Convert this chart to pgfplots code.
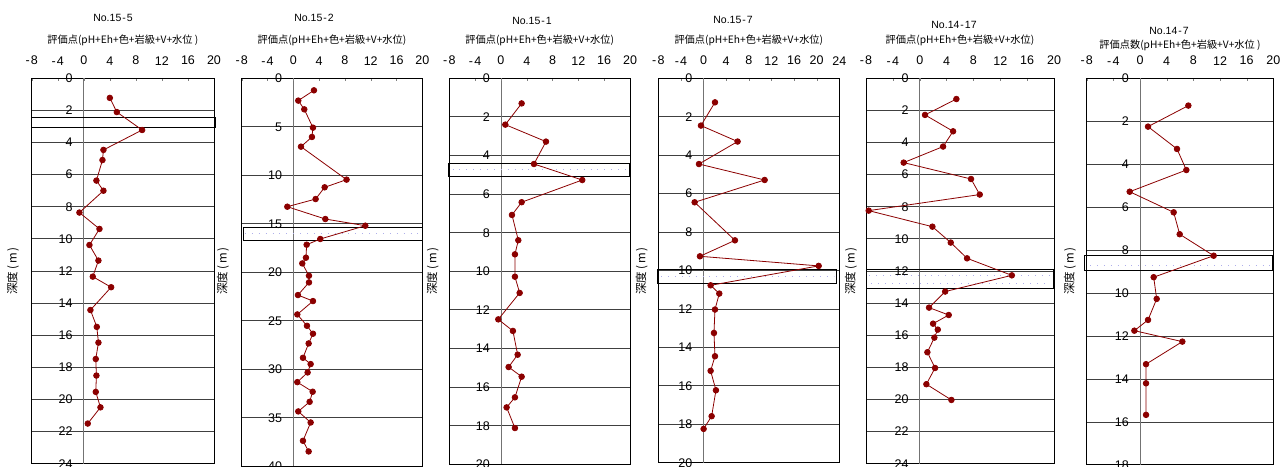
\documentclass[border=0pt]{standalone}
\usepackage{fontspec}
\setmainfont{Liberation Sans}
\newfontfamily\jp{Noto Sans CJK JP}
\usepackage{pgfplots}
\pgfplotsset{compat=1.18}

\definecolor{ptred}{RGB}{139,0,0}
\definecolor{dotc}{RGB}{175,175,235}

\pgfplotsset{
  panel/.style={
    scale only axis, anchor=north west,
    y dir=reverse, ymin=0, clip=false,
    axis line style={line width=1pt},
    xtick pos=right, xticklabel pos=right,
    tick align=inside, major tick length=3pt,
    ytick style={draw=none},
    ymajorgrids, major grid style={black!75, line width=0.85pt},
    extra x ticks={0}, extra x tick labels={},
    extra x tick style={grid=major, major grid style={black!55, line width=0.8pt}},
    xticklabel style={font=\fontsize{12.5}{12.5}\selectfont, inner sep=0pt, anchor=south, yshift=13pt},
    yticklabel style={font=\fontsize{12.5}{12.5}\selectfont, inner sep=0pt, anchor=east},
    /pgf/number format/assume math mode=true,
    xtick={-8,-4,0,4,8,12,16,20},
    xticklabels={-\kern1.2pt8,-\kern1.2pt4,0,4,8,12,16,20},
    xmin=-8, xmax=20,
  },
  dat/.style={color=ptred, line width=0.8pt, mark=*, mark size=2.8pt, mark options={solid, fill=ptred}},
  zone/.style={black, line width=0.9pt, mark=none},
  zonedots/.style={dotc, line width=0.9pt, mark=none, dash pattern=on 0.9pt off 6pt},
}

\newcommand{\ttl}[3]{\node at (#1pt,-#2pt) {\fontsize{10.5}{10.5}\selectfont #3};}
\newcommand{\sub}[3]{\node at (#1pt,-#2pt) {\jp\fontsize{10.2}{10.2}\selectfont #3};}
\newcommand{\dep}[1]{\node[rotate=90] at (#1pt,-271pt) {\jp\fontsize{11.5}{11.5}\selectfont 深度\,(\,m\,)};}

\begin{document}
\begin{tikzpicture}
\path[use as bounding box, clip] (0,0) rectangle (1281pt,-466pt);

% ---------------- No.15-5 ----------------
\begin{axis}[panel, at={(31.7pt,-78.3pt)}, width=182.3pt, height=385.4pt,
  ymax=24, ytick={0,2,...,24}, yticklabel style={xshift=41.1pt}]
\addplot[zone] coordinates {(-8,2.41) (20.15,2.41) (20.15,3.07) (-8,3.07) (-8,2.41)};
\addplot[dat] table[x=v, y=d] {
v d
4.0 1.22
5.07 2.10
8.96 3.22
3.02 4.46
2.87 5.09
1.94 6.37
3.02 7.0
-0.67 8.36
2.41 9.38
0.87 10.38
2.25 11.35
1.38 12.35
4.2 13.01
1.02 14.43
2.0 15.48
2.25 16.46
1.84 17.48
1.94 18.51
1.84 19.53
2.56 20.49
0.61 21.5
};
\end{axis}

% ---------------- No.15-2 ----------------
\begin{axis}[panel, at={(241.7pt,-78.3pt)}, width=180.6pt, height=387.9pt,
  ymax=40, ytick={0,5,...,40}, yticklabel style={xshift=40.6pt}]
\addplot[zone] coordinates {(-7.75,15.4) (20,15.4) (20,16.68) (-7.75,16.68) (-7.75,15.4)};
\addplot[zonedots] coordinates {(-7.5,16.04) (20,16.04)};
\addplot[dat] table[x=v, y=d] {
v d
3.2 1.24
0.77 2.30
1.70 3.20
3.05 5.09
2.89 6.05
1.19 7.05
8.26 10.45
4.86 11.24
3.46 12.45
-0.93 13.24
4.96 14.51
11.16 15.2
4.18 16.57
2.07 17.16
1.96 18.5
1.39 19.09
2.43 20.36
2.43 21.05
0.72 22.35
3.05 22.97
0.62 24.35
2.12 25.52
3.05 26.34
2.38 27.34
1.50 28.82
2.69 29.47
2.22 30.33
0.62 31.33
3.0 32.32
2.53 33.36
0.77 34.35
2.69 35.49
1.50 37.38
2.38 38.48
};
\end{axis}

% ---------------- No.15-1 ----------------
\begin{axis}[panel, at={(449.3pt,-78.3pt)}, width=180.7pt, height=386pt,
  ymax=20, ytick={0,2,...,20}, yticklabel style={xshift=40.6pt}]
\addplot[zone] coordinates {(-8.1,4.40) (19.85,4.40) (19.85,5.08) (-8.1,5.08) (-8.1,4.40)};
\addplot[zonedots] coordinates {(-7.5,4.74) (19.5,4.74)};
\addplot[dat] table[x=v, y=d] {
v d
3.21 1.30
0.68 2.40
6.98 3.28
5.12 4.44
12.6 5.27
3.21 6.42
1.71 7.08
2.69 8.39
2.17 9.12
2.17 10.28
2.9 11.12
-0.41 12.49
1.86 13.09
2.59 14.32
1.19 14.96
3.21 15.46
2.17 16.53
0.88 17.05
2.17 18.12
};
\end{axis}

% ---------------- No.15-7 ----------------
\begin{axis}[panel, at={(658.3pt,-78.3pt)}, width=181pt, height=384.4pt,
  xmax=24, xtick={-8,-4,0,4,8,12,16,20,24},
  xticklabels={-\kern1.2pt8,-\kern1.2pt4,0,4,8,12,16,20,24},
  ymax=20, ytick={0,2,...,20}, yticklabel style={xshift=34.25pt}]
\addplot[zone] coordinates {(-8.15,9.94) (23.5,9.94) (23.5,10.67) (-8.15,10.67) (-8.15,9.94)};
\addplot[zonedots] coordinates {(-7.5,10.3) (23,10.3)};
\addplot[dat] table[x=v, y=d] {
v d
2.02 1.25
-0.46 2.46
6.02 3.29
-0.81 4.46
10.8 5.29
-1.58 6.45
5.55 8.43
-0.64 9.26
20.35 9.76
1.25 10.77
2.78 11.2
2.02 12.03
1.84 13.25
2.02 14.46
1.25 15.22
2.19 16.23
1.43 17.58
0.01 18.24
};
\end{axis}

% ---------------- No.14-17 ----------------
\begin{axis}[panel, at={(866pt,-78.3pt)}, width=188pt, height=385.4pt,
  ymax=24, ytick={0,2,...,24}, yticklabel style={xshift=42.7pt}]
\addplot[zone] coordinates {(-8,11.9) (19.9,11.9) (19.9,13.1) (-8,13.1) (-8,11.9)};
\addplot[zonedots] coordinates {(-7.5,12.3) (19.5,12.3)};
\addplot[zonedots] coordinates {(-7.2,12.75) (19.5,12.75)};
\addplot[dat] table[x=v, y=d] {
v d
5.46 1.29
0.79 2.28
4.97 3.30
3.48 4.25
-2.39 5.25
7.64 6.27
8.94 7.24
-7.6 8.24
1.89 9.24
4.62 10.23
7.05 11.21
13.72 12.27
3.79 13.28
1.39 14.28
4.32 14.74
1.99 15.28
2.69 15.65
2.18 16.15
1.14 17.06
2.28 18.04
0.99 19.05
4.72 20.03
};
\end{axis}

% ---------------- No.14-7 ----------------
\begin{axis}[panel, at={(1086.7pt,-78.3pt)}, width=186.6pt, height=386.6pt,
  ymax=18, ytick={0,2,...,18}, yticklabel style={xshift=42.3pt}]
\addplot[zone] coordinates {(-8.35,8.23) (19.9,8.23) (19.9,8.96) (-8.35,8.96) (-8.35,8.23)};
\addplot[zonedots] coordinates {(-7.5,8.72) (19.5,8.72)};
\addplot[dat] table[x=v, y=d] {
v d
7.25 1.27
1.2 2.25
5.55 3.29
6.95 4.27
-1.55 5.28
5.05 6.24
5.95 7.26
11.05 8.26
2.05 9.26
2.5 10.27
1.2 11.25
-0.85 11.75
6.35 12.26
0.9 13.31
0.9 14.2
0.9 15.67
};
\end{axis}

% titles and depth labels
\ttl{113}{18}{No.15\kern1pt-\kern1pt5}
\sub{122.9}{40}{評価点(pH+Eh+色+岩級+V+水位 )}
\ttl{314}{18}{No.15\kern1pt-\kern1pt2}
\sub{332}{40}{評価点(pH+Eh+色+岩級+V+水位)}
\ttl{532}{20.5}{No.15\kern1pt-\kern1pt1}
\sub{539.7}{40.5}{評価点(pH+Eh+色+岩級+V+水位)}
\ttl{733}{20}{No.15\kern1pt-\kern1pt7}
\sub{748.8}{40}{評価点(pH+Eh+色+岩級+V+水位)}
\ttl{954}{25}{No.14\kern1pt-\kern1pt17}
\sub{960}{40}{評価点(pH+Eh+色+岩級+V+水位)}
\ttl{1169}{31}{No.14\kern1pt-\kern1pt7}
\sub{1180}{45}{評価点数(pH+Eh+色+岩級+V+水位 )}

\dep{13}
\dep{223}
\dep{432.7}
\dep{641.7}
\dep{851}
\dep{1070}
\end{tikzpicture}
\end{document}
